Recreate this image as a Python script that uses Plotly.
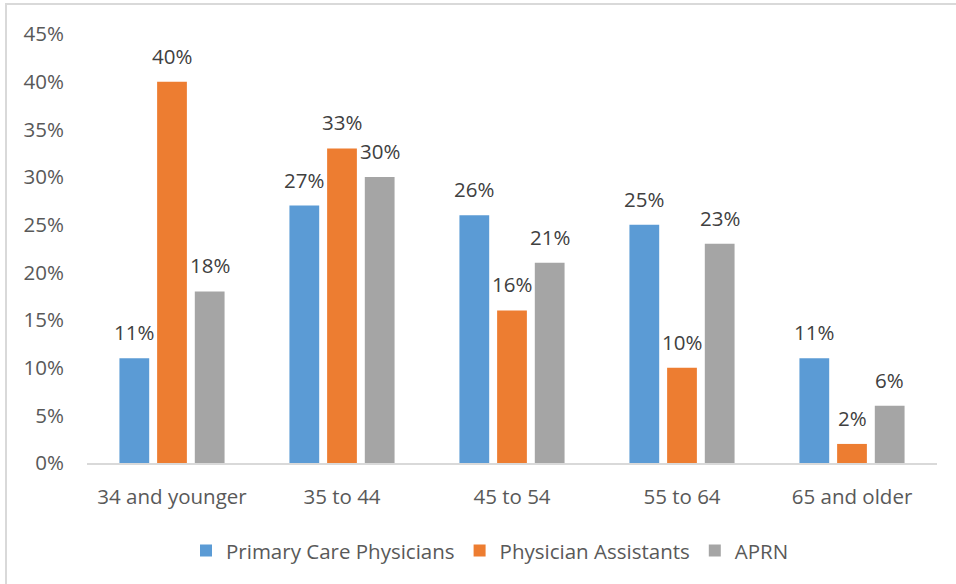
import plotly.graph_objects as go

categories = ["34 and younger", "35 to 44", "45 to 54", "55 to 64", "65 and older"]
pcp = [0.11, 0.27, 0.26, 0.25, 0.11]
pa = [0.40, 0.33, 0.16, 0.10, 0.02]
aprn = [0.18, 0.30, 0.21, 0.23, 0.06]
series_names = ["Primary Care Physicians", "Physician Assistants", "APRN"]
colors = ["#5B9BD5", "#ED7D31", "#A5A5A5"]
y_ticks = [0, 0.05, 0.10, 0.15, 0.20, 0.25, 0.30, 0.35, 0.40, 0.45]

FONT = "'Open Sans', sans-serif"
FS = 20.5
BARGAP = 0.335
SLOT_PX = 850 / 5 * (1 - BARGAP) / 3

fig = go.Figure()
annotations = []
for i, (name, vals, col) in enumerate(zip(series_names, [pcp, pa, aprn], colors)):
    fig.add_trace(go.Bar(
        x=categories, y=vals, name=name,
        marker=dict(color=col, line=dict(width=0)),
    ))
    for c, v in zip(categories, vals):
        annotations.append(dict(
            x=c, y=v, xref="x", yref="y", text=f"{round(v*100)}%",
            showarrow=False, xanchor="center", yanchor="middle",
            xshift=(i - 1) * SLOT_PX, yshift=26,
            font=dict(family=FONT, size=FS, color="#404040"),
        ))

fig.update_layout(
    width=956, height=584,
    margin=dict(l=87, r=19, t=34, b=121),
    paper_bgcolor="white", plot_bgcolor="white",
    barmode="group", bargap=BARGAP, bargroupgap=0.21,
    font=dict(family=FONT, size=FS, color="#595959"),
    showlegend=True,
    legend=dict(orientation="h", x=(490 - 87) / 850, xanchor="center", y=-0.158, yanchor="top",
                font=dict(family=FONT, size=FS, color="#595959"),
                itemwidth=30, traceorder="normal"),
    xaxis=dict(showgrid=False, showline=True, linecolor="#D9D9D9", linewidth=2,
               ticks="", ticklabelstandoff=14,
               tickfont=dict(family=FONT, size=FS, color="#595959")),
    yaxis=dict(range=[0, 0.45], tickvals=y_ticks,
               ticktext=[f"{round(v*100)}%" for v in y_ticks],
               showgrid=False, zeroline=False, showline=False, ticks="",
               ticklabelstandoff=22,
               tickfont=dict(family=FONT, size=FS, color="#595959")),
    annotations=annotations,
    shapes=[
        dict(type="line", xref="paper", yref="paper",
             x0=(5 - 87) / 850, x1=(956 - 87) / 850,
             y0=(463 - 4) / 429, y1=(463 - 4) / 429,
             line=dict(color="#D9D9D9", width=2)),
        dict(type="line", xref="paper", yref="paper",
             x0=(6 - 87) / 850, x1=(6 - 87) / 850,
             y0=(463 - 4) / 429, y1=(463 - 584) / 429,
             line=dict(color="#D9D9D9", width=2)),
    ],
)

fig.write_html("out.html", config={"displayModeBar": False},
               post_script="document.body.style.margin='0';")
